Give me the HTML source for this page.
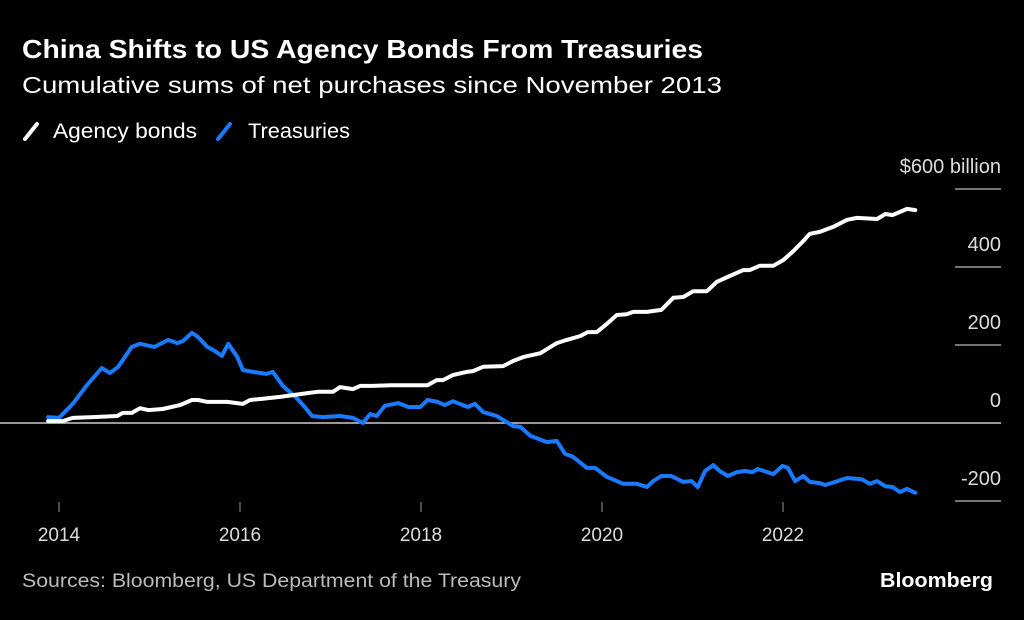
<!DOCTYPE html>
<html><head><meta charset="utf-8">
<style>
body{margin:0;background:#000;width:1024px;height:615px;overflow:hidden;font-family:"Liberation Sans",sans-serif;color:#fff}
</style></head>
<body>
<svg width="1024" height="615" xmlns="http://www.w3.org/2000/svg">
<rect width="1024" height="615" fill="#000"/>
<text x="22" y="58" font-size="26" font-weight="bold" fill="#fff" textLength="681" lengthAdjust="spacingAndGlyphs">China Shifts to US Agency Bonds From Treasuries</text>
<text x="22" y="93" font-size="23" fill="#fff" textLength="700" lengthAdjust="spacingAndGlyphs">Cumulative sums of net purchases since November 2013</text>
<g>
<line x1="25" y1="139" x2="37" y2="124" stroke="#fff" stroke-width="4" stroke-linecap="round"/>
<text x="53" y="138" font-size="21" fill="#fff" textLength="144" lengthAdjust="spacingAndGlyphs">Agency bonds</text>
<line x1="218" y1="139" x2="230" y2="124" stroke="#1a7aff" stroke-width="4" stroke-linecap="round"/>
<text x="248" y="138" font-size="21" fill="#fff" textLength="102" lengthAdjust="spacingAndGlyphs">Treasuries</text>
</g>
<g id="axes"></g>
<g id="series"></g>
<text x="22" y="587" font-size="19" fill="#bbb" textLength="499" lengthAdjust="spacingAndGlyphs">Sources: Bloomberg, US Department of the Treasury</text>
<text x="880" y="587" font-size="20" font-weight="bold" fill="#fff" textLength="113" lengthAdjust="spacingAndGlyphs">Bloomberg</text>
</svg>
<script>
const yTicks=[600,400,200,0,-200];
const yTickLabels=["$600 billion","400","200","0","-200"];
const xTicks=[2014,2016,2018,2020,2022];
const agencyDates=[2013.88,2014.04,2014.15,2014.37,2014.64,2014.7,2014.8,2014.89,2014.98,2015.14,2015.33,2015.46,2015.53,2015.63,2015.85,2016.02,2016.1,2016.24,2016.43,2016.65,2016.84,2017.01,2017.09,2017.23,2017.31,2017.45,2017.64,2017.82,2018.05,2018.15,2018.22,2018.33,2018.48,2018.55,2018.66,2018.88,2018.99,2019.1,2019.29,2019.47,2019.58,2019.73,2019.81,2019.91,2020.02,2020.13,2020.24,2020.31,2020.46,2020.62,2020.75,2020.86,2020.97,2021.12,2021.23,2021.37,2021.52,2021.59,2021.7,2021.85,2021.96,2022.07,2022.18,2022.25,2022.36,2022.51,2022.66,2022.77,2022.99,2023.08,2023.16,2023.24,2023.32,2023.41];
const agencyValues=[5,5,13,15,18,26,26,38,33,36,46,59,59,54,54,49,59,62,67,74,80,80,92,87,95,95,97,97,97,110,110,123,131,133,144,146,159,169,179,205,213,223,233,233,254,277,279,285,285,290,321,323,338,338,362,377,392,392,403,403,418,441,467,485,490,503,521,526,523,536,533,541,549,546];
const treasDates=[2013.88,2014.0,2014.15,2014.3,2014.47,2014.56,2014.65,2014.8,2014.89,2015.05,2015.2,2015.3,2015.36,2015.46,2015.53,2015.63,2015.71,2015.79,2015.86,2015.96,2016.02,2016.13,2016.28,2016.35,2016.46,2016.62,2016.7,2016.78,2016.9,2017.09,2017.23,2017.34,2017.42,2017.49,2017.58,2017.73,2017.84,2017.97,2018.05,2018.16,2018.24,2018.33,2018.49,2018.57,2018.66,2018.81,2018.99,2019.07,2019.18,2019.36,2019.47,2019.56,2019.65,2019.8,2019.89,2020.02,2020.2,2020.35,2020.46,2020.53,2020.62,2020.73,2020.86,2020.95,2021.02,2021.1,2021.19,2021.26,2021.35,2021.45,2021.54,2021.62,2021.68,2021.85,2021.95,2022.01,2022.09,2022.18,2022.25,2022.36,2022.42,2022.53,2022.66,2022.82,2022.91,2022.99,2023.08,2023.16,2023.24,2023.32,2023.41];
const treasValues=[15,13,49,95,141,128,144,195,203,195,213,205,210,231,220,195,185,172,203,169,136,131,126,131,95,62,41,18,15,18,13,0,23,18,44,51,41,41,59,54,46,56,41,49,28,18,-8,-10,-33,-49,-46,-79,-87,-115,-115,-138,-156,-156,-164,-149,-136,-136,-151,-149,-164,-123,-108,-123,-136,-126,-123,-126,-118,-131,-110,-115,-149,-136,-151,-154,-159,-151,-141,-144,-156,-149,-162,-164,-177,-169,-179];

const NS="http://www.w3.org/2000/svg";
const xs=d=>59+(d-2014)*91;
const ys=v=>423-v*0.39;
const axes=document.getElementById('axes');
const series=document.getElementById('series');
function mk(tag,attrs,parent){const e=document.createElementNS(NS,tag);for(const k in attrs)e.setAttribute(k,attrs[k]);parent.appendChild(e);return e;}
yTicks.forEach((v,i)=>{
  const y=ys(v);
  const x1=v===0?0:955;
  const g=mk('line',{x1:x1,x2:1001,y1:y,y2:y,stroke:v===0?'#ccc':'#999','stroke-width':1.5},axes);
  
  
  const t=mk('text',{x:1001,y:y-16,'font-size':20,fill:'#ddd','text-anchor':'end'},axes);
  t.textContent=yTickLabels[i];
  
  
});
xTicks.forEach(yr=>{
  const x=xs(yr)-(yr-2014)*0.5;
  const l=mk('line',{x1:x,x2:x,y1:502,y2:512,stroke:'#999','stroke-width':1},axes);
  
  
  const t=mk('text',{x:x,y:541,'font-size':19,fill:'#ddd','text-anchor':'middle'},axes);
  t.textContent=yr;
  
  
});
function line(dates,vals,color,name){
  const d=dates.map((t,i)=>(i?'L':'M')+xs(t).toFixed(1)+','+ys(vals[i]).toFixed(1)).join('');
  const p=mk('path',{d:d,fill:'none',stroke:color,'stroke-width':4,'stroke-linejoin':'round','stroke-linecap':'round'},series);
  
  
}
line(treasDates,treasValues,'#1a7aff','treasuries-line');
line(agencyDates,agencyValues,'#ffffff','agency-bonds-line');
</script>
</body></html>
